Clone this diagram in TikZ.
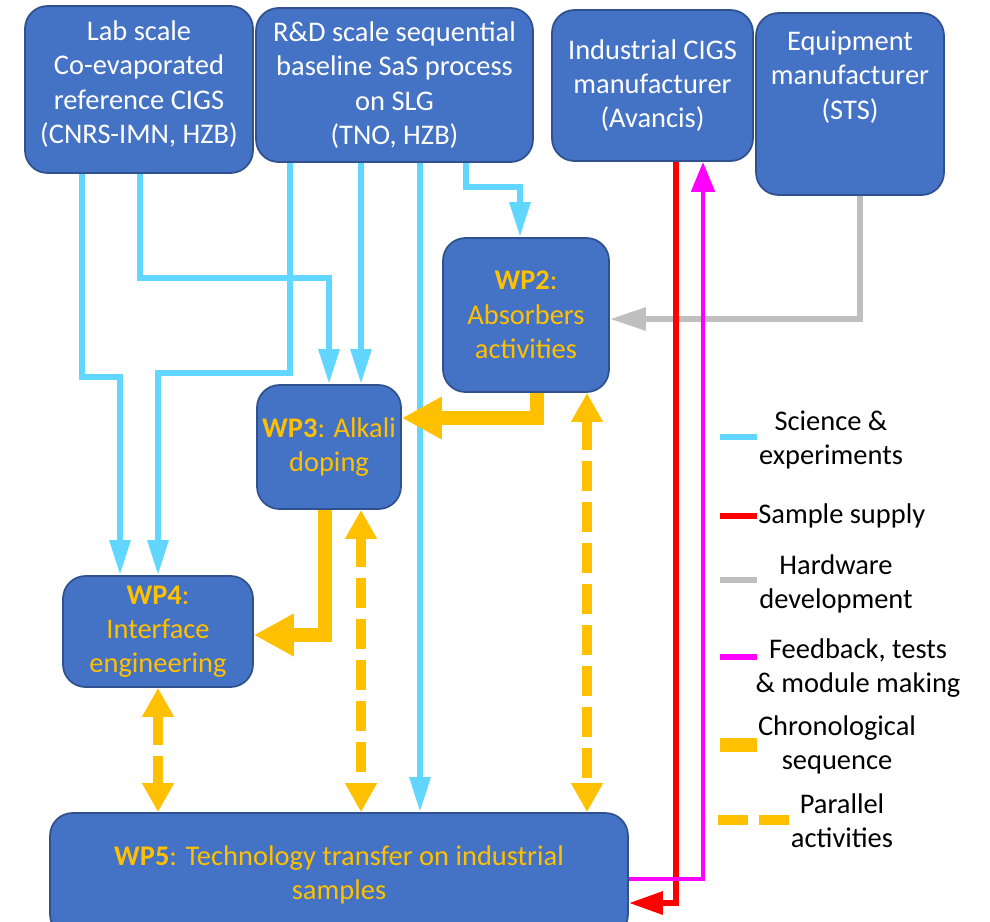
\documentclass[tikz,border=0pt]{standalone}
\usepackage{fontspec}
\setmainfont{Carlito}
\usetikzlibrary{arrows.meta}
\definecolor{boxblue}{HTML}{4472C4}
\definecolor{boxline}{HTML}{2F528F}
\definecolor{wporange}{HTML}{FFC000}
\definecolor{sciblue}{HTML}{61D6FF}
\definecolor{hwgray}{HTML}{BFBFBF}
\definecolor{supplyred}{HTML}{FF0000}
\definecolor{fbmagenta}{HTML}{FF00FF}

\begin{document}
\begin{tikzpicture}[x=0.02cm, y=-0.02cm,
  every node/.style={font=\fontsize{16.2}{19.5}\selectfont, align=center, inner sep=0pt},
  box/.style={draw=boxline, line width=1pt, fill=boxblue, rounded corners=0.45cm, text=white},
  wpbox/.style={box, text=wporange},
  sci/.style={sciblue, line width=3.4pt, -{Triangle[width=0.4cm,length=0.7cm]}},
  supply/.style={supplyred, line width=3.4pt, -{Triangle[width=0.44cm,length=0.68cm]}},
  hw/.style={hwgray, line width=3.4pt, -{Triangle[width=0.44cm,length=0.72cm]}},
  feedback/.style={fbmagenta, line width=2.8pt, -{Triangle[width=0.46cm,length=0.6cm]}},
  chrono/.style={wporange, line width=8pt, -{Triangle[width=0.8cm,length=0.8cm]}},
  parallel/.style={wporange, line width=5.7pt, dash pattern=on 0.6cm off 0.22cm,
    {Triangle[width=0.6cm,length=0.58cm]}-{Triangle[width=0.6cm,length=0.58cm]}}]
\useasboundingbox (0,0) rectangle (990,921);

\node[box, minimum width=4.56cm, minimum height=3.34cm] (lab) at (139,89.5) {};
\node[text=white] (labtxt) at (139,84)
  {Lab scale\\Co-evaporated\\reference CIGS\\(CNRS-IMN, HZB)};
\node[box, minimum width=5.54cm, minimum height=3.08cm] (rd) at (394.5,85)
  {R\&D scale sequential\\baseline SaS process\\on SLG\\(TNO, HZB)};
\node[box, minimum width=4.02cm, minimum height=3.02cm] (ind) at (652.5,85.5)
  {Industrial CIGS\\manufacturer\\(Avancis)};
\node[box, minimum width=3.76cm, minimum height=3.64cm] (equip) at (850,104) {};
\node[text=white] (equiptxt) at (850,77) {Equipment\\manufacturer\\(STS)};

\node[wpbox, minimum width=3.32cm, minimum height=3.08cm] (wp2) at (526,315)
  {\textbf{WP2}:\\Absorbers\\activities};
\node[wpbox, minimum width=2.88cm, minimum height=2.48cm] (wp3) at (329,447)
  {\textbf{WP3}: Alkali\\doping};
\node[wpbox, minimum width=3.8cm, minimum height=2.22cm] (wp4) at (158,631.5)
  {\textbf{WP4}:\\Interface\\engineering};
\node[wpbox, minimum width=11.56cm, minimum height=2.48cm] (wp5) at (339,875)
  {\textbf{WP5}: Technology transfer on industrial\\samples};

\draw[sci] (82,0 |- lab.south) |- (120,377) -- (120,0 |- wp4.north);
\draw[sci] (140,0 |- lab.south) |- (329,278) -- (329,0 |- wp3.north);
\draw[sci] (290,0 |- rd.south) |- (158,373) -- (158,0 |- wp4.north);
\draw[sci] (361,0 |- rd.south) -- (361,0 |- wp3.north);
\draw[sci] (420,0 |- rd.south) -- (420,0 |- wp5.north);
\draw[sci] (466,0 |- rd.south) |- (520,187) -- (520,0 |- wp2.north);

\draw[hw] (860,0 |- equip.south) |- (wp2.east |- 0,319);
\draw[supply] (676,0 |- ind.south) |- (wp5.east |- 0,903);
\draw[feedback] (wp5.east |- 0,879) -| (703,0 |- ind.south);

\draw[chrono] (537,0 |- wp2.south) |- (wp3.east |- 0,418);
\draw[chrono] (325,0 |- wp3.south) |- (wp4.east |- 0,635);
\draw[parallel] (158,0 |- wp4.south) -- (158,0 |- wp5.north);
\draw[parallel] (361,0 |- wp3.south) -- (361,0 |- wp5.north);
\draw[parallel] (587,0 |- wp2.south) -- (587,0 |- wp5.north);

\draw[sci, -] (720,437) -- (757,437);
\draw[supply, -] (720,516) -- (757,516);
\draw[hw, -] (720,580) -- (757,580);
\draw[feedback, line width=3.4pt, -] (720,657) -- (757,657);
\draw[chrono, -] (720,745) -- (757,745);
\draw[parallel, -] (718,820) -- (791,820);

\node (legsci) at (831,440) {Science \&\\experiments};
\node[anchor=west] (legsupply) at (758,516) {Sample supply};
\node (leghw) at (836,584) {Hardware\\development};
\node (legfeed) at (858,668) {Feedback, tests\\\& module making};
\node (legchrono) at (837,745) {Chronological\\sequence};
\node (legpar) at (842,821) {Parallel\\activities};
\end{tikzpicture}
\end{document}
